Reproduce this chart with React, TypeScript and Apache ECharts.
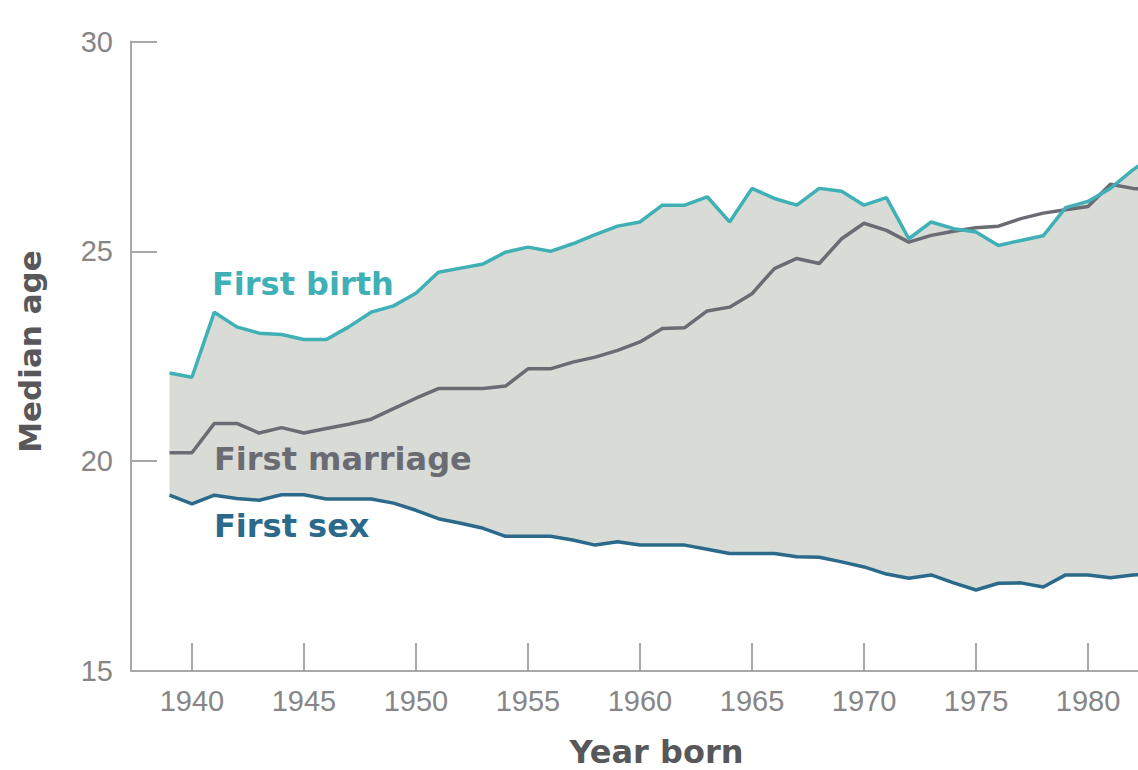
import React, { useEffect, useRef } from "react";
import * as echarts from "echarts";

const years = [
  1939, 1940, 1941, 1942, 1943, 1944, 1945, 1946, 1947, 1948, 1949,
  1950, 1951, 1952, 1953, 1954, 1955, 1956, 1957, 1958, 1959,
  1960, 1961, 1962, 1963, 1964, 1965, 1966, 1967, 1968, 1969,
  1970, 1971, 1972, 1973, 1974, 1975, 1976, 1977, 1978, 1979,
  1980, 1981, 1982, 1983,
];

const firstBirth = [
  22.1, 22.0, 23.55, 23.2, 23.05, 23.02, 22.9, 22.9, 23.2, 23.55, 23.7,
  24.0, 24.5, 24.6, 24.7, 24.98, 25.1, 25.0, 25.18, 25.4, 25.6,
  25.7, 26.1, 26.1, 26.3, 25.7, 26.5, 26.26, 26.1, 26.5, 26.43,
  26.1, 26.28, 25.3, 25.7, 25.54, 25.46, 25.14, 25.26, 25.37, 26.04,
  26.19, 26.5, 26.94, 27.3,
];

const firstMarriage = [
  20.2, 20.2, 20.9, 20.9, 20.67, 20.8, 20.67, 20.78, 20.88, 21.0, 21.25,
  21.5, 21.73, 21.73, 21.73, 21.79, 22.2, 22.2, 22.36, 22.48, 22.64,
  22.84, 23.16, 23.18, 23.58, 23.67, 23.99, 24.59, 24.83, 24.71, 25.3,
  25.67, 25.5, 25.22, 25.38, 25.48, 25.56, 25.6, 25.78, 25.91, 25.99,
  26.07, 26.6, 26.5, 26.45,
];

const firstSex = [
  19.19, 18.98, 19.19, 19.11, 19.07, 19.2, 19.2, 19.1, 19.1, 19.1, 19.0,
  18.83, 18.63, 18.52, 18.4, 18.21, 18.21, 18.21, 18.12, 18.0, 18.08,
  18.0, 18.0, 18.0, 17.9, 17.8, 17.8, 17.8, 17.72, 17.71, 17.6,
  17.48, 17.31, 17.21, 17.29, 17.1, 16.93, 17.09, 17.1, 17.0, 17.29,
  17.29, 17.22, 17.29, 17.3,
];

const xTickValues = [1940, 1945, 1950, 1955, 1960, 1965, 1970, 1975, 1980];

const seriesLabels = ["First birth", "First marriage", "First sex"];
const xTitle = "Year born";
const yTitle = "Median age";

const COLORS = {
  birth: "#3fb0b5",
  marriage: "#6b6b73",
  sex: "#2b6a8a",
  fill: "#d9dcd6",
  axis: "#a8a8a8",
  tickText: "#868686",
  title: "#58585a",
};

export default function App() {
  const ref = useRef<HTMLDivElement>(null);

  useEffect(() => {
    if (!ref.current) return;
    const chart = echarts.init(ref.current, undefined, { renderer: "svg" });

    const pairs = (vals: number[]) => years.map((y, i) => [y, vals[i]]);
    const labelFont = "bold 32px 'DejaVu Sans'";

    const option: any = {
      animation: false,
      backgroundColor: "#ffffff",
      grid: {
        left: 131,
        right: 0,
        top: 41.5,
        bottom: 99,
        containLabel: false,
        outerBoundsMode: "none",
      },
      xAxis: {
        type: "value",
        min: 1937.28,
        max: 1982.23,
        splitLine: { show: false },
        axisLine: { show: true, lineStyle: { color: COLORS.axis, width: 2 } },
        axisTick: {
          show: true,
          inside: true,
          length: 28,
          lineStyle: { color: COLORS.axis, width: 2 },
          customValues: xTickValues,
        },
        axisLabel: {
          show: true,
          customValues: xTickValues,
          margin: 15,
          color: COLORS.tickText,
          fontSize: 29,
          fontFamily: "'Liberation Sans', Arial, sans-serif",
          formatter: (v: number) => String(v),
        },
      },
      yAxis: {
        type: "value",
        min: 15,
        max: 30,
        interval: 5,
        splitLine: { show: false },
        axisLine: { show: true, lineStyle: { color: COLORS.axis, width: 2 } },
        axisTick: {
          show: true,
          inside: true,
          length: 26,
          lineStyle: { color: COLORS.axis, width: 2 },
        },
        axisLabel: {
          show: true,
          margin: 18,
          color: COLORS.tickText,
          fontSize: 29,
          fontFamily: "'Liberation Sans', Arial, sans-serif",
          padding: [0, 0, 10, 0],
        },
      },
      series: [
        {
          type: "custom",
          coordinateSystem: "cartesian2d",
          silent: true,
          z: 1,
          data: [[years[0], firstSex[0]]],
          renderItem: (_params: any, api: any) => {
            const top = years.map((y, i) => api.coord([y, firstBirth[i]]));
            const bottom = years
              .map((y, i) => api.coord([y, firstSex[i]]))
              .reverse();
            return {
              type: "polygon",
              shape: { points: top.concat(bottom) },
              style: { fill: COLORS.fill },
            };
          },
        },
        {
          name: seriesLabels[2],
          type: "line",
          data: pairs(firstSex),
          showSymbol: false,
          z: 3,
          lineStyle: { color: COLORS.sex, width: 3.5 },
          itemStyle: { color: COLORS.sex },
        },
        {
          name: seriesLabels[1],
          type: "line",
          data: pairs(firstMarriage),
          showSymbol: false,
          z: 3,
          lineStyle: { color: COLORS.marriage, width: 3.5 },
          itemStyle: { color: COLORS.marriage },
        },
        {
          name: seriesLabels[0],
          type: "line",
          data: pairs(firstBirth),
          showSymbol: false,
          z: 4,
          lineStyle: { color: COLORS.birth, width: 3.5 },
          itemStyle: { color: COLORS.birth },
        },
      ],
      graphic: [
        {
          type: "text",
          x: 212,
          y: 283.5,
          z: 10,
          style: {
            text: seriesLabels[0],
            font: labelFont,
            fill: COLORS.birth,
            align: "left",
            verticalAlign: "middle",
          },
        },
        {
          type: "text",
          x: 214,
          y: 458.5,
          z: 10,
          style: {
            text: seriesLabels[1],
            font: labelFont,
            fill: COLORS.marriage,
            align: "left",
            verticalAlign: "middle",
          },
        },
        {
          type: "text",
          x: 214,
          y: 525.5,
          z: 10,
          style: {
            text: seriesLabels[2],
            font: labelFont,
            fill: COLORS.sex,
            align: "left",
            verticalAlign: "middle",
          },
        },
        {
          type: "text",
          x: 30,
          y: 351.5,
          rotation: Math.PI / 2,
          z: 10,
          style: {
            text: yTitle,
            font: "bold 31px 'DejaVu Sans'",
            fill: COLORS.title,
            align: "center",
            verticalAlign: "middle",
          },
        },
        {
          type: "text",
          x: 656.5,
          y: 752,
          z: 10,
          style: {
            text: xTitle,
            font: "bold 32px 'DejaVu Sans'",
            fill: COLORS.title,
            align: "center",
            verticalAlign: "middle",
          },
        },
      ],
    };

    chart.setOption(option);
    return () => chart.dispose();
  }, []);

  return (
    <div
      ref={ref}
      style={{ position: "absolute", left: 0, top: 0, width: 1138, height: 770 }}
    />
  );
}
